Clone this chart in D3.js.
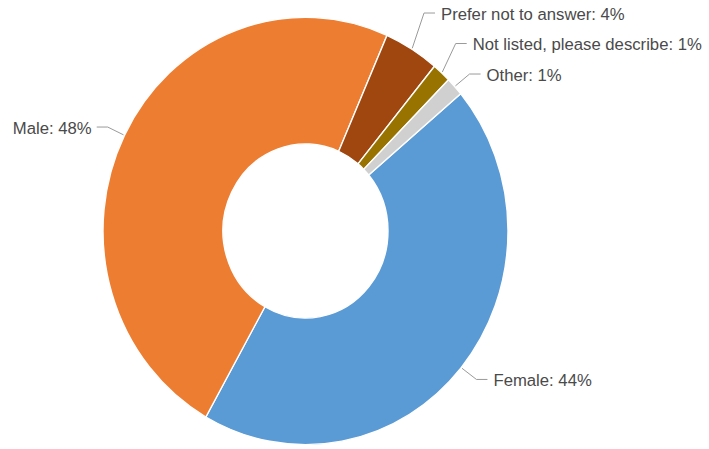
<!DOCTYPE html>
<html>
<head>
<meta charset="utf-8">
<script src="https://cdn.jsdelivr.net/npm/d3@7"></script>
<style>
  html, body { margin: 0; padding: 0; background: #fff; }
  svg { display: block; }
</style>
</head>
<body>
<svg id="chart" width="709" height="449"></svg>
<script>
// Gender breakdown of respondents (percent of total)
const categories = ["Female", "Male", "Prefer not to answer", "Not listed, please describe", "Other"];
const shares = [44.3, 48.4, 4.4, 1.49, 1.41];
const colors = ["#5B9BD5", "#ED7D31", "#A0460F", "#997300", "#D0D0D0"];

const width = 709, height = 449;
const cx = 305.5, cy = 231;
const outerR = 202.5, innerR = 82.5;
const stretchY = 1.055;               // donut is drawn slightly taller than wide
const startDeg = 50;

const svg = d3.select("#chart");
svg.append("rect").attr("width", width).attr("height", height).attr("fill", "#fff");

const data = categories.map((c, i) => ({ name: c, value: shares[i], color: colors[i] }));

const pie = d3.pie()
  .sort(null)
  .value(d => d.value)
  .startAngle(startDeg * Math.PI / 180)
  .endAngle(startDeg * Math.PI / 180 + 2 * Math.PI);

const arcs = pie(data);

const arc = d3.arc().innerRadius(innerR).outerRadius(outerR);

const g = svg.append("g")
  .attr("transform", `translate(${cx},${cy}) scale(1,${stretchY})`);

g.selectAll("path.slice")
  .data(arcs)
  .join("path")
  .attr("class", "slice")
  .attr("d", arc)
  .attr("fill", d => d.data.color)
  .attr("stroke", "#fff")
  .attr("stroke-width", 1.4)
  .attr("vector-effect", "non-scaling-stroke");

// Point on the (stretched) ring at angle a and radius r, in page coordinates
function ringPoint(a, r) {
  return [cx + Math.sin(a) * r, cy - Math.cos(a) * r * stretchY];
}

// Label layout: leader from slice edge to an elbow, then a short horizontal run
const labels = arcs.map(d => {
  const mid = (d.startAngle + d.endAngle) / 2;
  const right = Math.sin(mid) >= 0;
  const edge = ringPoint(mid, outerR + 1);
  const near = ringPoint(mid, outerR + 10);
  const far = ringPoint(mid, outerR + 12);
  return {
    d, mid, right, edge,
    ly: near[1] - 8 * Math.cos(mid),
    ex: far[0] + (right ? 6 : -6),
    text: `${d.data.name}: ${Math.round(d.data.value)}%`
  };
});

// Keep stacked labels on each side at least one line apart, pushing upward
const gap = 30.5;
[true, false].forEach(side => {
  const s = labels.filter(l => l.right === side).sort((a, b) => b.ly - a.ly);
  for (let i = 1; i < s.length; i++) {
    if (s[i].ly > s[i - 1].ly - gap) s[i].ly = s[i - 1].ly - gap;
  }
});

const lg = svg.append("g");

lg.selectAll("polyline")
  .data(labels)
  .join("polyline")
  .attr("points", l => {
    const hx = l.ex + (l.right ? 11 : -11);
    return [l.edge, [l.ex, l.ly], [hx, l.ly]].map(p => p.join(",")).join(" ");
  })
  .attr("fill", "none")
  .attr("stroke", "#9a9a9a")
  .attr("stroke-width", 1);

lg.selectAll("text")
  .data(labels)
  .join("text")
  .attr("x", l => l.ex + (l.right ? 17 : -16))
  .attr("y", l => l.ly + 1)
  .attr("dy", "0.35em")
  .attr("text-anchor", l => l.right ? "start" : "end")
  .attr("font-family", "Arial, 'Liberation Sans', sans-serif")
  .attr("font-size", "16.7px")
  .attr("fill", "#4a4a4a")
  .text(l => l.text);
</script>
</body>
</html>
